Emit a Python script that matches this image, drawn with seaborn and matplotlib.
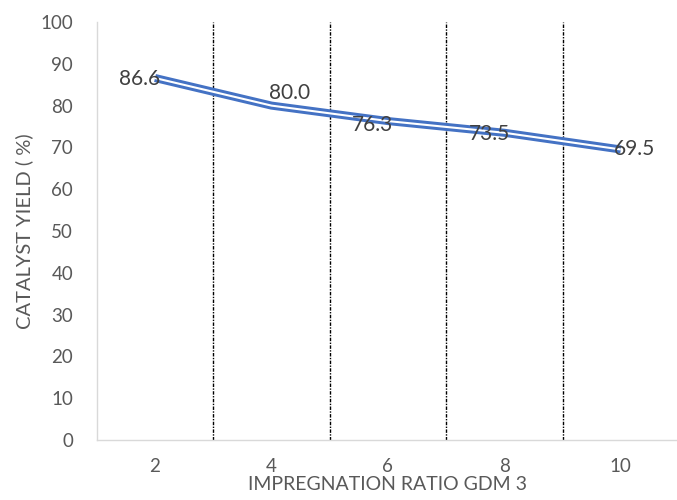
import numpy as np
import pandas as pd
import matplotlib
matplotlib.use('Agg')
import matplotlib.pyplot as plt
import seaborn as sns

ratios = ['2', '4', '6', '8', '10']
yield_pct = [86.6, 80.0, 76.3, 73.5, 69.5]
label_offsets = [(-11, -1), (13, 9), (-11, -3), (-11, -1), (10, 0)]

df = pd.DataFrame({'pos': np.arange(len(ratios)), 'yield': yield_pct})

sns.set_style('white')
plt.rcParams['font.family'] = ['Lato', 'DejaVu Sans']

fig = plt.figure(figsize=(6.77, 5), dpi=100)
ax = fig.add_axes([0.143, 0.12, 0.86, 0.836])

blue = '#4472C4'
sns.lineplot(data=df, x='pos', y='yield', ax=ax, color=blue, lw=5.8,
             solid_capstyle='butt', solid_joinstyle='round')
sns.lineplot(data=df, x='pos', y='yield', ax=ax, color='white', lw=1.5,
             solid_capstyle='butt')

for i, v in enumerate(yield_pct):
    ax.annotate(f'{v:.1f}', (i, v), xytext=label_offsets[i], textcoords='offset points',
                ha='center', va='center', fontsize=15, color='#404040')

for b in np.arange(0.5, len(ratios) - 1, 1):
    ax.axvline(b, color='black', lw=1, dashes=(2.5, 1, 1, 1), zorder=0)

ax.set_xlim(-0.5, len(ratios) - 0.5)
ax.set_ylim(0, 100)
ax.set_yticks(range(0, 101, 10))
ax.set_xticks(range(len(ratios)))
ax.set_xticklabels(ratios)
ax.tick_params(axis='y', length=0, pad=17, labelsize=13.5, labelcolor='#595959')
ax.tick_params(axis='x', length=0, pad=13, labelsize=13.5, labelcolor='#595959')
ax.set_xlabel('IMPREGNATION RATIO GDM 3', fontsize=14, color='#595959', labelpad=0.5)
ax.set_ylabel('CATALYST YIELD ( %)', fontsize=14.5, color='#595959', labelpad=5)

for s in ['top', 'right']:
    ax.spines[s].set_visible(False)
for s in ['left', 'bottom']:
    ax.spines[s].set_color('#d9d9d9')
    ax.spines[s].set_linewidth(1)

fig.savefig('out.png', dpi=100)
